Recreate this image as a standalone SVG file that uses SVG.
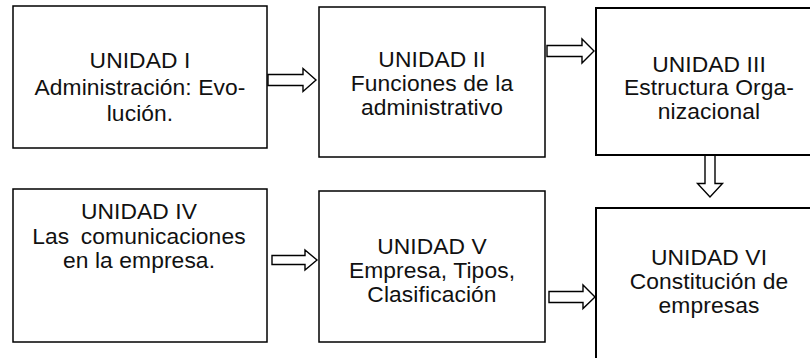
<svg xmlns="http://www.w3.org/2000/svg" width="810" height="358" viewBox="0 0 810 358">
<style>
.box{fill:#fff;stroke:#000;stroke-width:1.5}
.arr{fill:#fff;stroke:#000;stroke-width:1.4;stroke-linejoin:miter}
text{font-family:"Liberation Sans",Arial,sans-serif;font-size:22.8px;letter-spacing:0.1px;fill:#111;text-anchor:middle}
</style>
<rect width="810" height="358" fill="#fff"/>
<g id="connectors">
<polygon class="arr" points="268,74.5 303,74.5 303,68.5 316,80 303,91.5 303,85.5 268,85.5"/>
<polygon class="arr" points="547,45.5 582,45.5 582,39 594,51 582,63 582,56.5 547,56.5"/>
<polygon class="arr" points="705,149 715,149 715,183.5 722.5,183.5 710,197 697.5,183.5 705,183.5"/>
<polygon class="arr" points="272,255.5 305,255.5 305,250 317,260 305,270 305,264.5 272,264.5"/>
<polygon class="arr" points="549,291.5 583,291.5 583,285 595,297 583,308.5 583,302.5 549,302.5"/>
</g>
<g id="n1">
<rect class="box" x="13" y="6" width="254" height="142"/>
<text x="140" y="68">UNIDAD I</text>
<text x="140" y="94.5">Administración: Evo-</text>
<text x="140" y="121">lución.</text>
</g>
<g id="n2">
<rect class="box" x="319" y="7" width="226" height="150"/>
<text x="432" y="66.5">UNIDAD II</text>
<text x="432" y="90.5">Funciones de la</text>
<text x="432" y="114.5">administrativo</text>
</g>
<g id="n3">
<rect class="box" x="596" y="8" width="226" height="147" style="stroke-width:2"/>
<text x="709" y="71.5">UNIDAD III</text>
<text x="709" y="95">Estructura Orga-</text>
<text x="709" y="118.5">nizacional</text>
</g>
<g id="n4">
<rect class="box" x="13" y="189" width="254" height="153"/>
<text x="139" y="219">UNIDAD IV</text>
<text x="139" y="244" style="word-spacing:5px">Las comunicaciones</text>
<text x="139" y="268">en la empresa.</text>
</g>
<g id="n5">
<rect class="box" x="319" y="191" width="226" height="151"/>
<text x="432" y="253.5">UNIDAD V</text>
<text x="432" y="277.5">Empresa, Tipos,</text>
<text x="432" y="301.5">Clasificación</text>
</g>
<g id="n6">
<rect class="box" x="596" y="208" width="226" height="160" style="stroke-width:2"/>
<text x="709" y="265">UNIDAD VI</text>
<text x="709" y="289">Constitución de</text>
<text x="709" y="313">empresas</text>
</g>
</svg>
